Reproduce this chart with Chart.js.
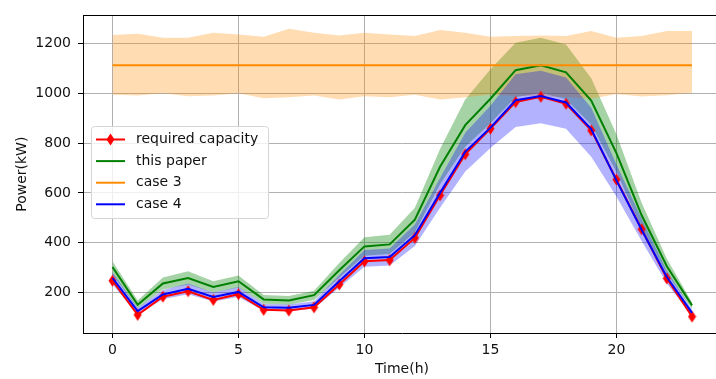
<!DOCTYPE html>
<html>
<head>
<meta charset="utf-8">
<script src="https://cdn.jsdelivr.net/npm/chart.js@4.4.0/dist/chart.umd.min.js"></script>
<style>
  html, body { margin: 0; padding: 0; overflow: hidden; background: #fff; }
  canvas { display: block; }
</style>
</head>
<body>
<canvas id="powerChart" width="728" height="379"></canvas>
<script>
// hours of the day
const hours = [0, 1, 2, 3, 4, 5, 6, 7, 8, 9, 10, 11, 12, 13, 14, 15, 16, 17, 18, 19, 20, 21, 22, 23];

const seriesNames = ['required capacity', 'this paper', 'case 3', 'case 4'];

const requiredCapacity = [247, 110, 183, 205, 170, 193, 130, 127, 140, 232, 325, 330, 419, 590, 755, 858, 965, 986, 958, 851, 653, 454, 256, 103];

const thisPaper = [302, 150, 236, 258, 222, 245, 172, 168, 189, 289, 385, 393, 492, 705, 872, 978, 1093, 1113, 1084, 971, 760, 510, 305, 148];
const thisPaperUpper = [325, 168, 260, 285, 245, 268, 190, 186, 207, 318, 422, 432, 540, 776, 975, 1097, 1203, 1223, 1196, 1060, 836, 560, 335, 160];
const thisPaperLower = [272, 135, 212, 232, 200, 220, 155, 151, 170, 260, 347, 354, 441, 635, 785, 880, 984, 1002, 976, 874, 684, 459, 275, 133];

const case3 = [1113, 1113, 1113, 1113, 1113, 1113, 1113, 1113, 1113, 1113, 1113, 1113, 1113, 1113, 1113, 1113, 1113, 1113, 1113, 1113, 1113, 1113, 1113, 1113];
const case3Upper = [1234, 1239, 1223, 1223, 1243, 1236, 1227, 1259, 1243, 1232, 1243, 1236, 1230, 1254, 1243, 1227, 1230, 1232, 1230, 1250, 1223, 1230, 1250, 1250];
const case3Lower = [994, 991, 1000, 988, 991, 1000, 980, 984, 991, 975, 988, 984, 994, 975, 984, 994, 990, 988, 985, 978, 997, 987, 992, 1002];

const case4 = [258, 125, 192, 215, 182, 202, 140, 138, 150, 245, 337, 342, 430, 600, 765, 862, 972, 989, 963, 856, 650, 452, 262, 118];
const case4Upper = [282, 137, 210, 236, 200, 222, 154, 152, 165, 270, 370, 376, 473, 660, 842, 950, 1077, 1091, 1064, 942, 715, 497, 288, 130];
const case4Lower = [232, 112, 173, 193, 164, 182, 126, 124, 135, 220, 303, 308, 387, 540, 686, 780, 865, 880, 858, 745, 585, 407, 236, 106];

const xTickValues = [0, 5, 10, 15, 20];
const yTickValues = [200, 400, 600, 800, 1000, 1200];

const pts = arr => arr.map((v, i) => ({ x: hours[i], y: v }));

// thin diamond marker like matplotlib 'd'
const diamond = document.createElement('canvas');
diamond.width = 9;
diamond.height = 13;
(function () {
  const c = diamond.getContext('2d');
  c.fillStyle = '#ff0000';
  c.beginPath();
  c.moveTo(4.5, 0.5);
  c.lineTo(8.5, 6.5);
  c.lineTo(4.5, 12.5);
  c.lineTo(0.5, 6.5);
  c.closePath();
  c.fill();
})();

const FONT = 'DejaVu Sans';

function band(data, color, order, fillTo) {
  return {
    data: pts(data),
    borderColor: 'rgba(0,0,0,0)',
    borderWidth: 0,
    pointRadius: 0,
    backgroundColor: color,
    fill: fillTo,
    order: order
  };
}

const legendItems = [
  { label: seriesNames[0], color: '#ff0000', marker: true },
  { label: seriesNames[1], color: '#008000' },
  { label: seriesNames[2], color: '#ff8c00' },
  { label: seriesNames[3], color: '#0000ff' }
];

const frameAndLegend = {
  id: 'frameAndLegend',
  afterDraw(chart) {
    const ctx = chart.ctx;
    const a = chart.chartArea;
    ctx.save();
    // top spine
    ctx.strokeStyle = '#000';
    ctx.lineWidth = 1;
    ctx.beginPath();
    ctx.moveTo(a.left, Math.round(a.top) + 0.5);
    ctx.lineTo(a.right, Math.round(a.top) + 0.5);
    ctx.stroke();

    // legend box
    const x = 91.5, y = 126.5, w = 177, h = 92, r = 3;
    ctx.beginPath();
    ctx.moveTo(x + r, y);
    ctx.arcTo(x + w, y, x + w, y + h, r);
    ctx.arcTo(x + w, y + h, x, y + h, r);
    ctx.arcTo(x, y + h, x, y, r);
    ctx.arcTo(x, y, x + w, y, r);
    ctx.closePath();
    ctx.fillStyle = 'rgba(255,255,255,0.8)';
    ctx.fill();
    ctx.strokeStyle = '#d5d5d5';
    ctx.stroke();

    ctx.font = '14px "' + FONT + '"';
    ctx.textBaseline = 'middle';
    ctx.textAlign = 'left';
    legendItems.forEach((it, i) => {
      const ry = 139.5 + i * 21.6;
      ctx.strokeStyle = it.color;
      ctx.lineWidth = 2;
      ctx.beginPath();
      ctx.moveTo(96, ry);
      ctx.lineTo(125, ry);
      ctx.stroke();
      if (it.marker) {
        ctx.drawImage(diamond, 110.5 - diamond.width / 2, ry - diamond.height / 2);
      }
      ctx.fillStyle = '#111';
      ctx.fillText(it.label, 136, ry);
    });
    ctx.restore();
  }
};

new Chart(document.getElementById('powerChart'), {
  type: 'line',
  data: {
    datasets: [
      band(thisPaperUpper, 'rgba(0,128,0,0.35)', 6, '+1'),
      band(thisPaperLower, 'rgba(0,0,0,0)', 6, false),
      band(case3Upper, 'rgba(255,140,0,0.3)', 5, '+1'),
      band(case3Lower, 'rgba(0,0,0,0)', 5, false),
      band(case4Upper, 'rgba(0,0,255,0.3)', 4, '+1'),
      band(case4Lower, 'rgba(0,0,0,0)', 4, false),
      {
        label: seriesNames[0],
        data: pts(requiredCapacity),
        borderColor: '#ff0000',
        backgroundColor: '#ff0000',
        borderWidth: 2,
        pointStyle: diamond,
        pointRadius: 5,
        fill: false,
        order: 3
      },
      {
        label: seriesNames[1],
        data: pts(thisPaper),
        borderColor: '#008000',
        borderWidth: 2,
        pointRadius: 0,
        fill: false,
        order: 2
      },
      {
        label: seriesNames[2],
        data: pts(case3),
        borderColor: '#ff8c00',
        borderWidth: 2,
        pointRadius: 0,
        fill: false,
        order: 1
      },
      {
        label: seriesNames[3],
        data: pts(case4),
        borderColor: '#0000ff',
        borderWidth: 2,
        pointRadius: 0,
        fill: false,
        order: 0
      }
    ]
  },
  options: {
    responsive: false,
    animation: false,
    devicePixelRatio: 1,
    layout: { padding: { top: 12, right: 2, bottom: 0, left: 0 } },
    plugins: {
      legend: { display: false },
      tooltip: { enabled: false },
      filler: { propagate: false }
    },
    elements: { line: { tension: 0 } },
    scales: {
      x: {
        type: 'linear',
        min: -1.17,
        max: 24.15,
        afterBuildTicks: s => { s.ticks = xTickValues.map(v => ({ value: v })); },
        afterFit: s => { s.height = 46; },
        grid: { color: '#b0b0b0', lineWidth: 1, tickLength: 5, tickColor: '#000' },
        border: { color: '#000', width: 1 },
        ticks: {
          padding: 4,
          color: '#111',
          font: { family: FONT, size: 14 },
          callback: v => String(v)
        },
        title: {
          display: true,
          text: 'Time(h)',
          color: '#111',
          font: { family: FONT, size: 14 },
          padding: { top: 0, bottom: 1 }
        }
      },
      y: {
        type: 'linear',
        min: 37,
        max: 1313,
        afterBuildTicks: s => { s.ticks = yTickValues.map(v => ({ value: v })); },
        afterFit: s => { s.width = 83; },
        grid: { color: '#b0b0b0', lineWidth: 1, tickLength: 5, tickColor: '#000' },
        border: { color: '#000', width: 1 },
        ticks: {
          padding: 7,
          color: '#111',
          font: { family: FONT, size: 14 },
          callback: v => String(v)
        },
        title: {
          display: true,
          text: 'Power(kW)',
          color: '#111',
          font: { family: FONT, size: 14 },
          padding: { top: 14, bottom: 0 }
        }
      }
    }
  },
  plugins: [frameAndLegend]
});
</script>
</body>
</html>
